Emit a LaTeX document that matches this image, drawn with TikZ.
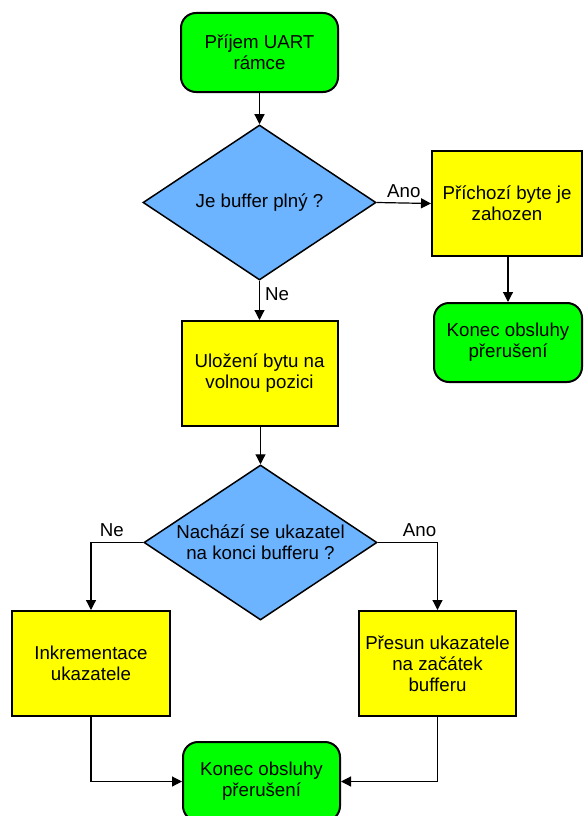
\documentclass[tikz,border=0pt]{standalone}
\usepackage{fontspec}
\setmainfont{Liberation Sans}
\usetikzlibrary{shapes.geometric,arrows.meta}
\definecolor{fgreen}{HTML}{00FF00}
\definecolor{fyellow}{HTML}{FFFF00}
\definecolor{fblue}{HTML}{6CB4FF}
\tikzset{
  base/.style={draw=black,line width=2pt,align=center,inner sep=0pt,
    font=\fontsize{18.7}{21}\selectfont},
  term/.style={base,fill=fgreen,rounded corners=15pt},
  proc/.style={base,fill=fyellow},
  dec/.style={draw=black,line width=1.5pt,diamond,inner sep=0pt,fill=fblue,minimum width=233pt,minimum height=155pt},
  dtext/.style={align=center,inner sep=0pt,font=\fontsize{18.7}{21}\selectfont},
  conn/.style={line width=1.2pt,-{Triangle[length=10pt,width=10pt]}},
  lbl/.style={font=\fontsize{18.7}{21}\selectfont,inner sep=0pt}
}
\begin{document}
\begin{tikzpicture}[x=1pt,y=-1pt]
\useasboundingbox (0,0) rectangle (584,816);
\clip (0,0) rectangle (584,816);
\node[term,minimum width=157pt,minimum height=79pt] (start) at (259.5,52.5) {Příjem UART\\rámce};
\node[dec] (d1) at (259.5,202.5) {};
\node[dtext] (d1t) at (d1) {Je buffer plný ?};
\node[proc,minimum width=150pt,minimum height=105pt] (drop) at (507,203.5) {Příchozí byte je\\zahozen};
\node[term,minimum width=148pt,minimum height=79pt] (end1) at (508,342.5) {Konec obsluhy\\přerušení};
\node[proc,minimum width=156pt,minimum height=105pt] (store) at (259.5,373.5) {Uložení bytu na\\volnou pozici};
\node[dec] (d2) at (260.5,542.5) {};
\node[dtext] (d2t) at (d2) {Nachází se ukazatel\\na konci bufferu ?};
\node[proc,minimum width=158pt,minimum height=105pt] (inc) at (91,663.5) {Inkrementace\\ukazatele};
\node[proc,minimum width=157pt,minimum height=105pt] (move) at (437.5,663.5) {Přesun ukazatele\\na začátek\\bufferu};
\node[term,minimum width=157pt,minimum height=79pt] (end2) at (261.5,781.5) {Konec obsluhy\\přerušení};

\draw[conn] (start) -- (d1);
\draw[conn] (d1.east) -- (drop.west) node[lbl,midway,above=5pt] (ano1) {Ano};
\draw[conn] (drop.south -| end1) -- (end1);
\draw[conn] (d1.south) -- (store.north) node[lbl,pos=0.35,right=5pt] (ne1) {Ne};
\draw[conn] (store.south -| d2) -- (d2.north);
\draw[conn] (d2.west) -| (inc.north) node[lbl,pos=0.3,above=5pt] (ne2) {Ne};
\draw[conn] (d2.east) -| (move.north) node[lbl,pos=0.35,above=5pt] (ano2) {Ano};
\draw[conn] (inc.south) |- (end2.west);
\draw[conn] (move.south) |- (end2.east);
\end{tikzpicture}
\end{document}
